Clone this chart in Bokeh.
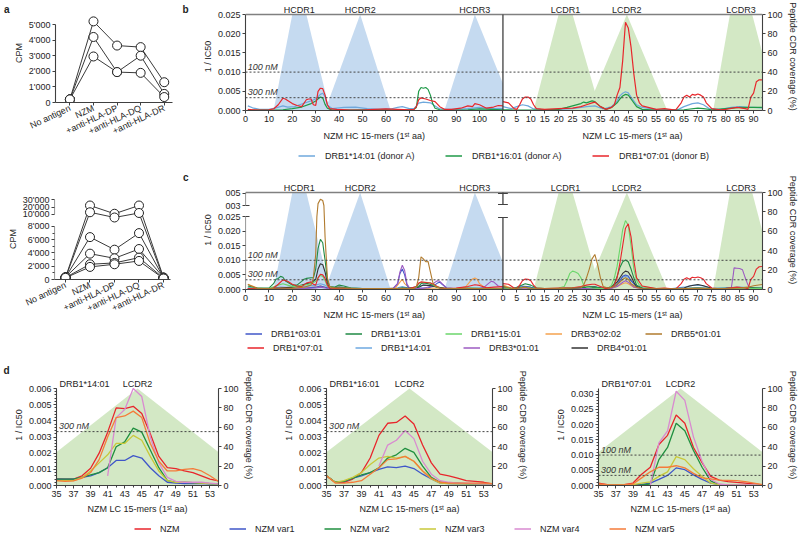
from bokeh.plotting import figure
from bokeh.models import (Range1d, LinearAxis, FixedTicker, Span, Label, Arrow,
                          Legend, LegendItem, NumeralTickFormatter)
from bokeh.layouts import row, column
from bokeh.embed import file_html
from bokeh.resources import INLINE

FONT = "Liberation Sans"
AX = "#404040"
TXT = "#1e1e1e"
FS = "9px"
NAN = float("nan")
HC_FILL = "#c5daf0"
LC_FILL = "#d3e8c5"

# ---------------- panel a data ----------------
a_categories = ["No antigen", "NZM", "+anti-HLA-DP", "+anti-HLA-DQ", "+anti-HLA-DR"]
a_top_ticks = [0, 1000, 2000, 3000, 4000, 5000]
a_top_tick_labels = ["0", "1'000", "2'000", "3'000", "4'000", "5'000"]
a_top_donor1 = [200, 5200, 3650, 3550, 1300]
a_top_donor2 = [200, 4200, 1950, 3000, 550]
a_top_donor3 = [200, 2950, 1950, 1900, 350]

a_bot_ticks = [0, 2000, 4000, 6000, 8000, 10000, 20000, 30000]
a_bot_tick_labels = ["0", "2'000", "4'000", "6'000", "8'000", "10'000", "20'000", "30'000"]
a_bot_minor = [1000, 3000, 5000, 7000]
a_bot_donor1 = [300, 22000, 11000, 22000, 300]
a_bot_donor2 = [250, 13000, 9500, 12000, 200]
a_bot_donor3 = [300, 6400, 4500, 7000, 250]
a_bot_donor4 = [350, 3900, 3200, 4600, 300]
a_bot_donor5 = [300, 2300, 2500, 3300, 200]
a_bot_donor6 = [250, 1900, 2300, 2800, 150]

# ---------------- CDR coverage (%) ----------------
hcdr_names = ["HCDR1", "HCDR2", "HCDR3"]
hcdr_label_x = [23, 49, 98]
hcdr_x = [[12, 20, 26, 36], [34, 49, 62], [85, 98, 114.7]]
hcdr_cov = [[0, 100, 100, 0], [0, 100, 0], [0, 100, 0]]
lcdr_names = ["LCDR1", "LCDR2", "LCDR3"]
lcdr_label_x = [22.5, 44.5, 85.5]
lcdr_x = [[11, 20, 25, 35], [30, 44.5, 59], [75.5, 81.5, 89.5, 98.6]]
lcdr_cov = [[0, 100, 100, 0], [0, 100, 0], [0, 100, 100, 0]]

thr_values = [0.01, 1 / 300]
thr_labels = ["100 nM", "300 nM"]

# ---------------- panel b data (x = 1st aa, y = 1/IC50 x 1000) ----------------
b_alleles = ["DRB1*14:01 (donor A)", "DRB1*16:01 (donor A)", "DRB1*07:01 (donor B)"]
b_colors = ["#6fa8dc", "#1f9a48", "#e8262b"]
b_hc_1401 = [(1,1.2),(3,.7),(6,.3),(10,.3),(13,.7),(16,1.2),(18,.9),(21,1.0),(24,1.7),(28,2.5),(30,3.0),(32,4.2),(33,4.5),(34,3.6),(35,1.4),(37,.5),(42,.8),(47,.9),(52,.5),(57,.3),(62,.4),(65,.8),(67,1.0),(70,.5),(72,.5),(74,1.9),(76,2.2),(79,2.0),(81,1.2),(83,.4),(86,.3),(90,.3),(95,.5),(100,.8),(105,.5),(110,.5)]
b_hc_1601 = [(1,.1),(6,.1),(12,.1),(16,.2),(20,.5),(24,.9),(28,1.8),(30,2.5),(32,3.5),(33,3.3),(34,1.6),(35,.6),(37,.1),(42,.1),(50,.2),(58,.2),(65,.1),(70,.2),(72,.3),(73,.8),(74,5.0),(75,6.0),(76,5.8),(77,6.0),(78,5.5),(79,4.0),(80,1.8),(81,.6),(83,.2),(88,.1),(95,.2),(100,.4),(105,.3),(110,.2)]
b_hc_0701 = [(1,.3),(3,.2),(6,.1),(10,.2),(12,.4),(14,1.5),(16,3.2),(17,3.0),(18,2.6),(20,1.8),(22,1.3),(24,1.0),(26,2.8),(27,3.0),(28,3.0),(29,1.5),(30,1.3),(31,5.0),(32,5.8),(33,5.7),(34,4.0),(35,1.5),(36,.5),(39,.3),(45,.1),(50,.1),(55,.3),(60,.4),(65,.3),(70,.2),(72,.3),(73,1.0),(74,2.8),(75,3.3),(77,3.0),(79,2.6),(81,2.3),(83,1.0),(85,.3),(88,.3),(92,.6),(95,1.2),(97,1.0),(98,1.8),(100,1.5),(103,.6),(106,.9),(108,1.3),(110,1.2)]
b_lc_1401 = [(0,1.0),(3,.5),(5,1.0),(7,1.5),(9,1.2),(11,.4),(15,.2),(20,.3),(25,.5),(30,1.0),(33,1.2),(36,.4),(39,1.0),(41,2.5),(42,3.8),(43,4.5),(44,4.9),(45,4.6),(46,3.5),(48,1.5),(50,.8),(55,.3),(60,.2),(63,.3),(65,1.0),(68,1.8),(70,2.0),(72,1.5),(74,.5),(78,.3),(82,.8),(85,1.0),(88,.8),(90,.8),(93,.7)]
b_lc_1601 = [(0,.2),(5,.1),(10,.1),(15,.2),(20,.3),(23,.8),(25,1.2),(28,1.8),(29,2.2),(30,2.0),(32,2.5),(33,2.3),(35,1.0),(37,.3),(39,.8),(41,2.0),(42,3.0),(43,3.8),(44,4.2),(45,4.0),(46,3.0),(48,1.0),(50,.3),(55,.1),(60,.1),(65,.2),(70,.6),(72,.5),(75,.2),(80,.5),(85,.8),(90,.8),(93,.8)]
b_lc_0701 = [(0,2.3),(2,2.0),(4,.5),(5,.3),(6,1.5),(7,3.0),(8,3.5),(9,3.5),(10,3.0),(11,1.5),(12,.5),(15,.3),(20,.5),(25,.6),(28,1.0),(30,1.5),(32,2.0),(33,2.2),(35,1.0),(37,.3),(39,.8),(40,1.5),(41,4.0),(42,6.0),(43,13.0),(44,23.0),(45,21.5),(46,16.5),(47,9.5),(48,4.0),(49,2.0),(50,1.2),(55,.3),(58,.5),(60,.3),(62,.1),(64,2.0),(65,3.5),(66,4.0),(67,3.5),(68,4.2),(69,4.0),(70,4.3),(71,4.0),(72,3.5),(73,2.0),(75,.5),(78,.2),(80,.3),(84,.8),(87,.5),(88,.3),(89,3.5),(90,4.5),(91,7.5),(92,8.0),(93,8.0)]

# ---------------- panel c data ----------------
c_alleles = ["DRB1*03:01", "DRB1*13:01", "DRB1*15:01", "DRB3*02:02", "DRB5*01:01",
             "DRB1*07:01", "DRB1*14:01", "DRB3*01:01", "DRB4*01:01"]
c_colors = ["#4157c9", "#1f8a45", "#6bd66b", "#f4a24e", "#b17b2e",
            "#e8252b", "#6ea8e0", "#9c5bc2", "#333333"]
c_hc_drb1_0301 = [(1,.3),(5,.2),(10,.3),(15,.5),(20,.3),(25,.4),(30,.8),(32,1.2),(34,.8),(36,.3),(40,.5),(45,.4),(50,.3),(55,.3),(60,.2),(63,.3),(65,2.0),(66,5.5),(67,7.0),(68,5.0),(69,1.5),(70,.5),(72,.3),(75,.5),(78,.6),(80,1.0),(82,2.2),(83,2.5),(84,1.8),(86,.5),(90,.2),(95,.2),(100,.3),(105,.2),(110,.2)]
c_hc_drb1_1301 = [(1,1.2),(5,.5),(10,.5),(12,2.0),(13,3.5),(14,3.8),(15,4.5),(16,4.2),(17,3.0),(18,2.5),(20,1.5),(22,1.5),(24,2.8),(25,3.5),(26,3.8),(28,4.0),(29,4.0),(30,7.0),(31,14.0),(32,17.2),(33,16.0),(34,10.0),(35,3.0),(36,1.0),(38,.8),(40,1.5),(42,1.2),(45,.5),(50,.3),(55,.3),(60,.2),(65,.3),(67,.5),(70,.3),(74,1.0),(75,2.0),(76,2.2),(78,2.0),(80,1.5),(82,.8),(85,.3),(90,.3),(95,.5),(100,.4),(105,.3),(110,.3)]
c_hc_drb1_1501 = [(1,.5),(5,.3),(10,.3),(14,1.5),(16,2.0),(18,1.5),(20,1.0),(25,1.5),(28,2.0),(30,2.8),(31,4.0),(32,4.8),(33,4.5),(34,3.0),(35,1.2),(37,.4),(40,.5),(45,.4),(50,.3),(55,.3),(60,.2),(65,.3),(70,.3),(73,.8),(74,2.0),(75,2.5),(77,2.5),(79,2.3),(81,1.2),(83,.4),(86,.3),(90,.3),(95,.4),(100,.3),(105,.3),(110,.2)]
c_hc_drb3_0202 = [(1,1.8),(3,1.2),(5,.5),(8,.3),(12,.3),(16,.5),(20,.4),(25,.5),(30,.8),(32,1.2),(34,.8),(36,.3),(40,.3),(45,.2),(50,.2),(55,.3),(60,.2),(64,.5),(66,2.5),(67,3.5),(68,2.0),(70,.5),(75,.3),(78,.3),(80,.5),(85,.3),(90,.3),(94,.8),(96,2.8),(97,3.6),(98,3.9),(99,3.5),(100,2.0),(102,.8),(105,.5),(110,.4)]
c_hc_drb5_0101 = [(1,1.7),(3,1.0),(5,.4),(10,.3),(15,.5),(20,.4),(25,.8),(28,1.5),(29,4.0),(30,12.0),(30.5,25.0),(31,33.0),(32,40.0),(33,38.0),(33.5,30.0),(34,18.0),(35,4.0),(36,1.0),(38,.5),(42,.5),(48,.3),(55,.3),(62,.3),(68,.3),(72,.3),(73,1.0),(74,4.0),(75,11.2),(76,10.5),(77,9.5),(78,9.6),(79,6.0),(80,2.5),(81,1.2),(83,.5),(88,.3),(95,.3),(100,.3),(105,.2),(110,.2)]
c_hc_drb1_0701 = [(1,.3),(5,.2),(10,.2),(12,.5),(14,1.8),(16,3.3),(18,2.8),(20,1.8),(22,1.2),(24,1.0),(26,2.2),(28,2.6),(29,1.8),(30,1.5),(31,4.0),(32,5.2),(33,5.0),(34,3.8),(35,1.5),(36,.5),(40,.3),(45,.2),(50,.2),(55,.3),(60,.3),(65,.3),(70,.3),(73,1.0),(74,2.2),(75,2.6),(77,2.4),(79,2.2),(81,1.5),(83,.5),(86,.3),(90,.5),(95,1.0),(98,1.6),(100,1.4),(103,.6),(106,.8),(110,1.0)]
c_hc_drb1_1401 = [(1,.8),(5,.4),(10,.3),(15,.8),(20,.6),(25,1.0),(30,1.5),(32,2.0),(34,1.5),(36,.4),(40,.5),(45,.5),(50,.3),(55,.2),(60,.3),(65,.6),(67,1.0),(70,.4),(74,1.2),(76,1.5),(80,1.2),(84,.3),(90,.2),(100,.4),(110,.3)]
c_hc_drb3_0101 = [(1,.3),(5,.3),(10,.3),(15,.4),(20,.3),(25,.4),(30,.5),(32,.8),(34,.5),(36,.3),(40,.4),(45,.3),(50,.3),(55,.3),(60,.2),(63,.3),(65,2.0),(66,6.0),(67,8.3),(68,6.5),(69,2.0),(70,.6),(72,.3),(76,.4),(79,1.0),(81,2.5),(82,3.0),(83,2.8),(84,2.0),(86,.5),(90,.2),(95,.2),(100,.3),(102,.8),(104,2.2),(105,2.8),(106,2.6),(108,1.2),(110,.8)]
c_hc_drb4_0101 = [(1,.3),(5,.3),(10,.3),(15,.5),(20,.8),(24,1.5),(26,2.0),(28,2.2),(30,3.5),(31,7.0),(32,8.8),(33,8.5),(34,6.0),(35,2.0),(36,.5),(40,.8),(45,.4),(50,.3),(55,.3),(60,.2),(65,.3),(67,.5),(70,.4),(74,.8),(76,1.5),(78,1.4),(80,1.2),(82,.8),(86,.3),(90,.2),(95,.3),(100,.3),(105,.3),(110,.3)]
c_lc_drb1_0301 = [(0,.8),(3,.3),(5,.6),(8,1.0),(10,.8),(12,.3),(15,.2),(20,.2),(25,.3),(30,.5),(33,.6),(36,.3),(39,.5),(41,1.5),(42,3.0),(43,4.5),(44,5.0),(45,4.6),(46,3.0),(48,1.0),(50,.4),(55,.2),(60,.2),(65,.3),(70,.6),(75,.3),(80,.4),(85,.6),(90,.4),(93,.3)]
c_lc_drb1_1301 = [(0,1.0),(2,.5),(4,.3),(6,1.2),(8,2.0),(10,1.5),(12,.5),(15,.3),(20,.3),(25,.5),(30,.8),(33,.8),(36,.3),(39,.8),(40,2.0),(41,4.5),(42,7.5),(43,9.5),(44,10.1),(45,9.5),(46,7.0),(47,4.0),(48,1.5),(50,.5),(55,.2),(60,.2),(65,.3),(70,.5),(75,.3),(80,.4),(85,.5),(90,.6),(93,.5)]
c_lc_drb1_1501 = [(0,.5),(3,.3),(6,.5),(8,.8),(10,.5),(15,.3),(20,.5),(22,1.0),(23,3.0),(24,5.5),(25,6.3),(26,6.0),(27,5.5),(28,4.0),(29,1.5),(30,.8),(32,.5),(35,.3),(38,.5),(39,1.5),(40,4.0),(41,8.0),(42,14.0),(43,20.5),(44,23.6),(45,22.0),(46,15.0),(47,7.0),(48,3.0),(49,1.5),(50,1.0),(55,.3),(60,.2),(65,.3),(70,.4),(75,.3),(80,.3),(85,.4),(90,.3),(93,.3)]
c_lc_drb3_0202 = [(0,1.5),(3,.5),(6,.3),(8,.5),(10,.3),(15,.2),(20,.3),(25,.3),(30,.5),(35,.3),(39,.4),(41,1.0),(43,2.0),(44,2.3),(45,2.0),(47,.8),(50,.3),(55,.2),(60,.2),(65,.3),(70,.3),(75,.2),(80,.3),(85,.5),(90,.4),(93,.3)]
c_lc_drb5_0101 = [(0,1.0),(3,.3),(6,.5),(8,.8),(10,.3),(15,.2),(20,.3),(25,.5),(28,.6),(29,1.5),(30,4.0),(31,7.0),(32,10.5),(33,12.0),(34,8.5),(35,4.0),(36,1.0),(38,.4),(40,1.0),(42,2.5),(43,3.5),(44,4.0),(45,3.5),(46,2.0),(48,.8),(50,.3),(55,.2),(60,.2),(65,.3),(70,.4),(75,.3),(80,.3),(85,.5),(88,.8),(90,1.3),(93,1.7)]
c_lc_drb1_0701 = [(0,2.0),(2,1.8),(4,.5),(5,.3),(6,1.5),(7,3.0),(8,3.6),(9,3.5),(10,3.0),(11,1.5),(12,.5),(15,.3),(20,.5),(25,.6),(28,1.0),(30,1.5),(32,1.8),(33,1.8),(35,1.0),(37,.3),(39,.8),(40,1.5),(41,4.0),(42,9.0),(43,15.0),(44,21.0),(45,22.5),(46,18.0),(47,10.0),(48,4.0),(50,1.2),(55,.3),(58,.5),(60,.3),(62,.1),(64,2.0),(65,3.5),(66,4.0),(67,3.5),(68,4.2),(69,4.0),(70,4.3),(71,4.0),(72,3.5),(73,2.0),(75,.5),(78,.2),(80,.3),(84,.8),(87,.5),(88,.3),(89,3.5),(90,4.5),(91,7.0),(92,7.8),(93,7.9)]
c_lc_drb1_1401 = [(0,.8),(3,.4),(5,.8),(7,1.2),(9,1.0),(11,.4),(15,.2),(20,.3),(25,.4),(30,.8),(33,1.0),(36,.3),(39,.8),(41,2.0),(42,3.2),(43,4.2),(44,4.5),(45,4.2),(46,3.0),(48,1.2),(50,.6),(55,.2),(60,.2),(65,.8),(68,1.4),(70,1.5),(72,1.2),(75,.4),(80,.6),(85,.8),(90,.6),(93,.5)]
c_lc_drb3_0101 = [(0,.3),(5,.3),(8,.5),(10,.3),(15,.2),(20,.2),(25,.3),(30,.3),(35,.2),(39,.4),(41,1.0),(43,2.5),(44,3.0),(45,2.5),(47,.8),(50,.3),(55,.2),(60,.2),(65,.2),(70,.3),(75,.3),(80,.4),(82,.5),(82.7,5.0),(83,7.4),(84,7.3),(85,7.2),(86,6.8),(87,4.0),(88,1.5),(89,.5),(90,.4),(93,.3)]
c_lc_drb4_0101 = [(0,.5),(3,.3),(5,.5),(8,.8),(10,.5),(15,.2),(20,.3),(25,.5),(30,.8),(33,.8),(36,.3),(39,.8),(41,2.5),(42,4.0),(43,5.5),(44,6.3),(45,6.0),(46,4.5),(47,2.5),(48,1.0),(50,.4),(55,.2),(60,.2),(65,.5),(67,1.2),(70,1.7),(72,1.3),(75,.4),(80,.3),(85,.5),(90,.4),(93,.3)]
c_hc = [c_hc_drb1_0301, c_hc_drb1_1301, c_hc_drb1_1501, c_hc_drb3_0202, c_hc_drb5_0101,
        c_hc_drb1_0701, c_hc_drb1_1401, c_hc_drb3_0101, c_hc_drb4_0101]
c_lc = [c_lc_drb1_0301, c_lc_drb1_1301, c_lc_drb1_1501, c_lc_drb3_0202, c_lc_drb5_0101,
        c_lc_drb1_0701, c_lc_drb1_1401, c_lc_drb3_0101, c_lc_drb4_0101]
c_draw_order = [6, 3, 0, 7, 8, 1, 2, 5, 4]

# ---------------- panel d data (1/IC50 x 1000, positions 35..54) ----------------
d_x = list(range(35, 55))
d_names = ["NZM", "NZM var1", "NZM var2", "NZM var3", "NZM var4", "NZM var5"]
d_colors = ["#e8252b", "#3f56c9", "#1f8f3f", "#c8c83a", "#d98ad0", "#f57b3a"]
d1_allele = "DRB1*14:01"
d1_nzm  = [0.41,0.40,0.40,0.60,1.07,2.0,3.3,4.8,4.75,4.9,4.45,3.2,1.8,1.1,1.05,0.9,0.8,0.6,0.4,0.28]
d1_var1 = [0.4,0.4,0.4,0.5,0.6,0.8,1.1,1.55,1.55,1.85,1.7,1.1,0.6,0.2,0.15,0.12,0.12,0.12,0.1,0.1]
d1_var2 = [0.4,0.4,0.4,0.5,0.65,0.8,1.1,2.4,2.7,3.55,3.3,2.2,1.1,0.3,0.2,0.2,0.18,0.15,0.12,0.1]
d1_var3 = [0.3,0.3,0.3,0.5,0.9,1.4,1.9,2.6,2.6,3.1,2.8,1.8,0.9,0.3,0.2,0.2,0.18,0.15,0.12,0.1]
d1_var4 = [NAN,NAN,NAN,NAN,NAN,NAN,0.6,4.2,4.7,6.0,5.5,3.0,1.4,0.5,0.25,0.2,0.2,0.2,0.15,0.1]
d1_var5 = [0.3,0.25,0.28,0.45,0.8,1.6,3.0,4.2,4.3,4.6,4.2,2.6,1.5,0.9,0.9,1.0,1.05,0.9,0.6,0.25]
d2_allele = "DRB1*16:01"
d2_nzm  = [0.6,0.2,0.2,0.4,0.8,1.7,3.1,3.85,3.9,4.3,3.8,2.5,1.4,0.7,0.6,0.45,0.3,0.25,0.2,0.1]
d2_var1 = [0.6,0.2,0.25,0.45,0.6,0.8,1.0,1.15,1.1,1.2,1.05,0.7,0.4,0.15,0.12,0.1,0.1,0.1,0.1,0.1]
d2_var2 = [0.6,0.2,0.25,0.45,0.65,0.8,1.1,1.7,1.9,2.3,2.05,1.2,0.5,0.2,0.15,0.15,0.12,0.1,0.1,0.1]
d2_var3 = [0.6,0.2,0.3,0.5,0.8,1.3,1.7,1.8,1.7,1.8,1.5,0.9,0.4,0.15,0.12,0.1,0.1,0.1,0.1,0.1]
d2_var4 = [NAN,NAN,NAN,NAN,NAN,NAN,1.2,2.5,2.8,3.4,2.9,1.5,0.7,0.3,0.2,0.15,0.15,0.12,0.1,0.1]
d2_var5 = [0.6,0.15,0.15,0.2,0.3,0.7,1.1,1.6,1.65,1.8,1.5,0.9,0.45,0.2,0.15,0.15,0.15,0.15,0.15,0.12]
d3_allele = "DRB1*07:01"
d3_nzm  = [0.8,0.3,0.2,0.3,0.8,3.7,6.0,13.5,16.5,23.2,20.5,12.5,7.5,3.0,1.8,1.3,1.0,0.8,0.5,0.2]
d3_var1 = [0.3,0.1,0.1,0.1,0.2,0.4,0.8,2.0,3.3,5.8,5.2,3.5,2.0,0.8,0.3,0.2,0.2,0.2,0.2,0.1]
d3_var2 = [0.2,0.1,0.1,0.1,0.1,0.2,0.5,8.5,12.5,20.5,18.0,11.5,6.0,1.5,0.2,0.2,0.2,0.2,0.2,0.1]
d3_var3 = [0.2,0.1,0.1,0.2,0.3,0.8,1.2,3.0,4.5,9.5,8.5,5.5,3.0,0.8,0.3,0.2,0.2,0.2,0.2,0.1]
d3_var4 = [NAN,NAN,NAN,NAN,NAN,NAN,0.0,14.0,18.0,31.0,28.0,16.0,8.0,2.0,0.5,0.2,0.2,0.2,0.2,0.1]
d3_var5 = [0.5,0.3,0.2,0.3,0.5,2.5,4.5,6.0,6.0,6.5,5.8,4.0,2.5,2.2,1.8,1.7,1.6,1.3,0.8,0.3]

# ---------------- helpers ----------------
K = 1.19          # LC axis stretch relative to HC axis
HC_END = 110.0
LC_END = 93.2
X_END = HC_END + LC_END * K
LEFT_W = 177      # width of the panel-a column
HL_W = 800 - LEFT_W
HL_ML = 68


def lc_pos(xs):
    return [HC_END + x * K for x in xs]


def unzip(pairs, f=lambda v: v):
    return [p[0] for p in pairs], [f(p[1] / 1000.0) for p in pairs]


def clip_x(xs, ys, xmax):
    ox, oy = [], []
    n = len(xs)
    for i in range(n):
        x0, y0 = xs[i], ys[i]
        x1, y1 = xs[(i + 1) % n], ys[(i + 1) % n]
        in0, in1 = x0 <= xmax, x1 <= xmax
        if in0:
            ox.append(x0); oy.append(y0)
        if in0 != in1:
            t = (xmax - x0) / (x1 - x0)
            ox.append(xmax); oy.append(y0 + t * (y1 - y0))
    return ox, oy


def style_axis(ax):
    ax.axis_line_color = AX
    ax.axis_line_width = 1.1
    ax.major_tick_line_color = AX
    ax.major_tick_out = 3
    ax.major_tick_in = 0
    ax.minor_tick_line_color = None
    ax.major_label_text_font = FONT
    ax.major_label_text_font_size = FS
    ax.major_label_text_color = TXT
    ax.major_label_standoff = 2
    ax.axis_label_text_font = FONT
    ax.axis_label_text_font_size = FS
    ax.axis_label_text_font_style = "normal"
    ax.axis_label_text_color = TXT
    ax.axis_label_standoff = 2


def text_axis(p, place, ticks, texts, standoff, size=FS, style="normal", yrn=None):
    kw = {} if yrn is None else {"y_range_name": yrn}
    ax = LinearAxis(ticker=FixedTicker(ticks=ticks),
                    major_label_overrides={t: s for t, s in zip(ticks, texts)}, **kw)
    ax.axis_line_color = None
    ax.major_tick_line_color = None
    ax.minor_tick_line_color = None
    ax.major_tick_out = 0
    ax.major_label_standoff = standoff
    ax.major_label_text_font = FONT
    ax.major_label_text_font_size = size
    ax.major_label_text_font_style = style
    ax.major_label_text_color = TXT
    p.add_layout(ax, place)
    return ax


def base_fig(w, h, xr, yr, ml, mr, mt, mb, xaxis=True, yaxis=True):
    p = figure(width=w, height=h, x_range=Range1d(*xr), y_range=Range1d(*yr),
               min_border_left=ml, min_border_right=mr, min_border_top=mt, min_border_bottom=mb,
               x_axis_location="below" if xaxis else None,
               y_axis_location="left" if yaxis else None,
               output_backend="svg", toolbar_location=None)
    p.outline_line_color = None
    p.grid.visible = False
    p.background_fill_color = "white"
    p.border_fill_color = "white"
    return p


def seg(p, x0, y0, x1, y1, color=AX, width=1.1):
    p.add_layout(Arrow(end=None, x_start=x0, y_start=y0, x_end=x1, y_end=y1,
                       line_color=color, line_width=width))


def txt(p, x, y, text, xo=0, yo=0, align="left", base="middle", size=FS, style="normal",
        color=TXT, yrn="default"):
    p.add_layout(Label(x=x, y=y, text=text, x_offset=xo, y_offset=yo, text_align=align,
                       text_baseline=base, text_font=FONT, text_font_size=size,
                       text_font_style=style, text_color=color, y_range_name=yrn))


def legend_strip(w, h, ml, mr, mt, loc, names, colors, gw, standoff, lw_label, lw=1.5):
    p = base_fig(w, h, (0, 1), (0, 1), ml, mr, mt, 0, xaxis=False, yaxis=False)
    items = []
    for n, c in zip(names, colors):
        r = p.line(x=[-10, -9], y=[-10, -10], line_color=c, line_width=lw)
        items.append(LegendItem(label=n, renderers=[r]))
    leg = Legend(items=items, location=loc, orientation="horizontal",
                 glyph_width=gw, glyph_height=11, label_height=11, label_standoff=standoff,
                 label_width=lw_label, spacing=0, padding=0, margin=0,
                 border_line_color=None, background_fill_alpha=0,
                 label_text_font=FONT, label_text_font_size=FS, label_text_color=TXT)
    p.add_layout(leg)
    return p


# ---------------- panel a ----------------
a_x = list(range(len(a_categories)))


def cat_axis(p):
    xa = p.xaxis[0]
    style_axis(xa)
    xa.ticker = FixedTicker(ticks=a_x)
    xa.major_label_overrides = {i: c for i, c in zip(a_x, a_categories)}
    xa.major_label_orientation = 0.44


A_PX = 5000 / 78.0             # CPM per pixel, upper panel a
pa = base_fig(LEFT_W, 165, (-0.61, 4.35), (0, 99 * A_PX), 50, LEFT_W - 172, 3, 63)
cat_axis(pa)
ya = pa.yaxis[0]
style_axis(ya)
ya.ticker = FixedTicker(ticks=a_top_ticks)
ya.major_label_overrides = dict(zip(a_top_ticks, a_top_tick_labels))
ya.axis_label = "CPM"
ya.bounds = (0, 5000)
for s in [a_top_donor1, a_top_donor2, a_top_donor3]:
    pa.line(a_x, s, line_color="#3a3a3a", line_width=1)
for s in [a_top_donor1, a_top_donor2, a_top_donor3]:
    pa.scatter(a_x, s, size=9, marker="circle", fill_color="white", line_color="#222222", line_width=1)
text_axis(pa, "left", [93 * A_PX], ["a"], 1, size="10px", style="bold")

# broken axis mapping for the lower panel a
A_D10, A_D30 = 9811.0, 12075.0


def a_disp(v):
    if v <= 8000:
        return v
    if v <= 10000:
        return 8000 + (v - 8000) * (A_D10 - 8000) / 2000.0
    return A_D10 + (v - 10000) * (A_D30 - A_D10) / 20000.0


pb2 = base_fig(LEFT_W, 190, (-0.449, 4.286), (0, 12226), 54, LEFT_W - 170, 33, 76)
cat_axis(pb2)
yb = pb2.yaxis[0]
style_axis(yb)
yb.ticker = FixedTicker(ticks=[a_disp(t) for t in a_bot_ticks], minor_ticks=[a_disp(t) for t in a_bot_minor])
yb.major_label_overrides = {a_disp(t): l for t, l in zip(a_bot_ticks, a_bot_tick_labels)}
yb.minor_tick_line_color = AX
yb.minor_tick_out = 2
yb.minor_tick_in = 0
yb.axis_label = "CPM"
yb.axis_line_color = None
seg(pb2, -0.449, 0, -0.449, 8000)
seg(pb2, -0.449, A_D10, -0.449, A_D30)
a_bot_all = [a_bot_donor1, a_bot_donor2, a_bot_donor3, a_bot_donor4, a_bot_donor5, a_bot_donor6]
for s in a_bot_all:
    pb2.line(a_x, [a_disp(v) for v in s], line_color="#3a3a3a", line_width=1)
for s in a_bot_all:
    pb2.scatter(a_x, [a_disp(v) for v in s], size=9, marker="circle", fill_color="white",
                line_color="#222222", line_width=1)


# ---------------- HC/LC panels (b, c) ----------------
def make_hl(height, mt, mb, ytop, yline, pct_top, label_y, letter, letter_y, title_standoff):
    p = base_fig(HL_W, height, (0, X_END), (0, ytop), HL_ML, 37, mt, mb)
    p.extra_y_ranges = {"pct": Range1d(0, pct_top)}
    for xs, ys in zip(hcdr_x, hcdr_cov):
        cx, cy = clip_x(xs, ys, HC_END)
        p.patch(cx, cy, fill_color=HC_FILL, line_color=None, y_range_name="pct")
    for xs, ys in zip(lcdr_x, lcdr_cov):
        p.patch(lc_pos(xs), ys, fill_color=LC_FILL, line_color=None, y_range_name="pct")
    hc_ticks = [float(t) for t in range(0, 101, 10)]
    lc_ticks = list(range(0, 91, 5))
    xa = p.xaxis[0]
    style_axis(xa)
    xa.ticker = FixedTicker(ticks=hc_ticks + [HC_END + t * K for t in lc_ticks])
    xa.major_label_overrides = {HC_END + t * K: str(t) for t in lc_ticks}
    text_axis(p, "below", [55.0, HC_END + 46.5 * K],
              ["NZM HC 15-mers (1\u02e2\u1d57 aa)", "NZM LC 15-mers (1\u02e2\u1d57 aa)"], title_standoff)
    ya = p.yaxis[0]
    style_axis(ya)
    ya.axis_label = "1 / IC50"
    ya.formatter = NumeralTickFormatter(format="0.000")
    text_axis(p, "left", [letter_y], [letter], 11, size="10px", style="bold")
    ra = LinearAxis(y_range_name="pct", ticker=FixedTicker(ticks=[0, 20, 40, 60, 80, 100]),
                    axis_label="Peptide CDR coverage (%)")
    style_axis(ra)
    ra.bounds = (0, 100)
    p.add_layout(ra, "right")
    for v, lab in zip(thr_values, thr_labels):
        p.add_layout(Span(location=v, dimension="width", line_dash="2 2", line_color="#444444",
                          line_width=1))
        txt(p, 1, v, lab, yo=0.5, base="bottom", style="italic", color="#333333")
    for name, x in zip(hcdr_names, hcdr_label_x):
        txt(p, x, label_y, name, align="center")
    for name, x in zip(lcdr_names, lcdr_label_x):
        txt(p, HC_END + x * K, label_y, name, align="center")
    seg(p, 0, yline, X_END, yline, color="#808080", width=1.6)
    return p, ya


# panel b : frame from y=2 to y=110 px, 0.025 at 14 px
B_PX = 0.025 / 96.0
pb, yab = make_hl(145, 2, 35, 108 * B_PX, 0.025, 108 / 96.0 * 100, 101 * B_PX,
                  "b", 101 * B_PX, 6)
yab.ticker = FixedTicker(ticks=[0, 0.005, 0.01, 0.015, 0.02, 0.025])
yab.bounds = (0, 0.025)
seg(pb, HC_END, 0, HC_END, 0.025, width=1.3)
for pairs, col in zip([b_hc_1401, b_hc_1601, b_hc_0701], b_colors):
    xs, ys = unzip(pairs)
    pb.line(xs, ys, line_color=col, line_width=1.2)
for pairs, col in zip([b_lc_1401, b_lc_1601, b_lc_0701], b_colors):
    xs, ys = unzip(pairs)
    pb.line(lc_pos(xs), ys, line_color=col, line_width=1.2)
b_leg = legend_strip(HL_W, 20, HL_ML, 37, 0, (53, 4), b_alleles, b_colors, 17, 10, 120)

# panel c with broken y axis : frame y=170..289 px, 0.025 at 216 px
C_PX = 0.025 / 73.0
C_LINE = 97 * C_PX
C_D03, C_D05 = 84 * C_PX, 96.5 * C_PX


def c_disp(v):
    if v <= 0.025:
        return v
    if v <= 0.03:
        return 0.025 + (v - 0.025) * (C_D03 - 0.025) / 0.005
    return C_D03 + (v - 0.03) * (C_D05 - C_D03) / 0.02


pc, yac = make_hl(157, 5, 33, 119 * C_PX, C_LINE, 119 / 97.0 * 100, 102 * C_PX,
                  "c", 112 * C_PX, 6)
c_low_ticks = [0, 0.005, 0.01, 0.015, 0.02, 0.025]
yac.ticker = FixedTicker(ticks=c_low_ticks + [c_disp(0.03), c_disp(0.05)])
yac.major_label_overrides = {c_disp(0.03): "003", c_disp(0.05): "005"}
yac.axis_line_color = None
seg(pc, 0, 0, 0, 0.025)
seg(pc, 0, C_D03, 0, C_LINE)
seg(pc, 0, 0.025, 1.7, 0.025)
seg(pc, 0, C_D03, 1.7, C_D03)
seg(pc, HC_END, 0, HC_END, 72 * C_PX, width=1.3)
seg(pc, HC_END, 85 * C_PX, HC_END, C_LINE, width=1.3)
for yy in [72 * C_PX, 85 * C_PX, 96 * C_PX]:
    seg(pc, HC_END - 2.1, yy, HC_END + 2.1, yy, width=1.2)
for i in c_draw_order:
    xs, ys = unzip(c_hc[i], c_disp)
    pc.line(xs, ys, line_color=c_colors[i], line_width=1.1)
    xs, ys = unzip(c_lc[i])
    pc.line(lc_pos(xs), ys, line_color=c_colors[i], line_width=1.1)
c_leg1 = legend_strip(HL_W, 19, HL_ML, 37, 0, (0, 2), c_alleles[:5], c_colors[:5], 17, 9, 74)
c_leg2 = legend_strip(HL_W, 14, HL_ML, 37, 0, (2, 2), c_alleles[5:], c_colors[5:], 17, 9, 82)


# ---------------- panel d : frame y=364..485 px, data top at 388 px ----------------
def d_panel(w, ml, mr, yfull, major, minor, allele, series, show100, letter=None, lstand=1):
    px = yfull / 97.0
    p = base_fig(w, 163, (35, 54), (0, 121 * px), ml, mr, 9, 33)
    p.extra_y_ranges = {"pct": Range1d(0, 121 / 97.0 * 100)}
    p.patch(lcdr_x[1], lcdr_cov[1], fill_color=LC_FILL, line_color=None, y_range_name="pct")
    xa = p.xaxis[0]
    style_axis(xa)
    xa.ticker = FixedTicker(ticks=list(range(35, 54, 2)), minor_ticks=list(range(36, 55, 2)))
    xa.minor_tick_line_color = AX
    xa.minor_tick_out = 2
    xa.minor_tick_in = 0
    xa.axis_label = "NZM LC 15-mers (1\u02e2\u1d57 aa)"
    xa.axis_label_standoff = 4
    ya = p.yaxis[0]
    style_axis(ya)
    ya.ticker = FixedTicker(ticks=major, minor_ticks=minor)
    ya.minor_tick_line_color = AX
    ya.minor_tick_out = 2
    ya.minor_tick_in = 0
    ya.formatter = NumeralTickFormatter(format="0.000")
    ya.axis_label = "1 / IC50"
    ya.bounds = (0, yfull)
    if letter:
        text_axis(p, "left", [115 * px], [letter], lstand, size="10px", style="bold")
    ra = LinearAxis(y_range_name="pct", ticker=FixedTicker(ticks=[0, 20, 40, 60, 80, 100]),
                    axis_label="Peptide CDR coverage (%)")
    style_axis(ra)
    ra.bounds = (0, 100)
    p.add_layout(ra, "right")
    for v, lab in zip(thr_values, thr_labels):
        if v > 0.005 and not show100:
            continue
        p.add_layout(Span(location=v, dimension="width", line_dash="2 2", line_color="#444444",
                          line_width=1))
        txt(p, 35.3, v, lab, yo=0.5, base="bottom", style="italic", color="#333333")
    for ys, col in zip(series, d_colors):
        p.line(d_x, [v / 1000.0 for v in ys], line_color=col, line_width=1.3)
    txt(p, 35, 102 * px, allele, xo=3)
    txt(p, 44.5, 102 * px, "LCDR2", align="center")
    return p


maj_small = [i * 0.001 for i in range(7)]
min_small = [i * 0.0002 for i in range(31)]
maj_big = [i * 0.005 for i in range(7)]
min_big = [i * 0.001 for i in range(32)]
pd1 = d_panel(270, 52, 52, 0.006, maj_small, min_small, d1_allele,
              [d1_nzm, d1_var1, d1_var2, d1_var3, d1_var4, d1_var5], False, "d", 1)
pd2 = d_panel(270, 56, 48, 0.006, maj_small, min_small, d2_allele,
              [d2_nzm, d2_var1, d2_var2, d2_var3, d2_var4, d2_var5], False)
pd3 = d_panel(260, 58, 36, 0.0319, maj_big, min_big, d3_allele,
              [d3_nzm, d3_var1, d3_var2, d3_var3, d3_var4, d3_var5], True)
d_leg = legend_strip(800, 20, 134, 0, 5, "top_left", d_names, d_colors, 17, 9, 69)

layout = column(
    row(pa, column(pb, b_leg, spacing=0), spacing=0),
    row(pb2, column(pc, c_leg1, c_leg2, spacing=0), spacing=0),
    row(pd1, pd2, pd3, spacing=0),
    d_leg,
    spacing=0,
)

open("out.html", "w").write(file_html(layout, INLINE, "NZM peptide binding"))
